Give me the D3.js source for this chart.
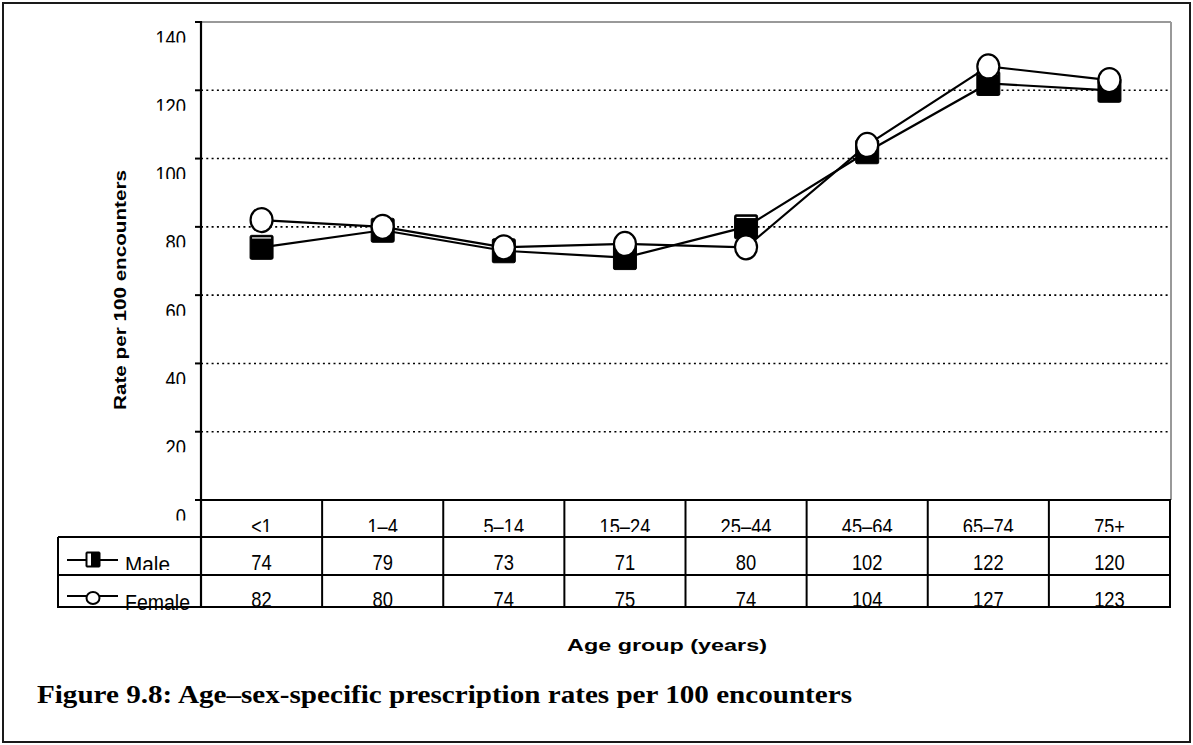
<!DOCTYPE html>
<html><head><meta charset="utf-8">
<script src="https://cdn.jsdelivr.net/npm/d3@7"></script>
<style>body{margin:0;background:#fff}svg{display:block}</style>
</head><body><svg id="c" width="1193" height="745"></svg>
<script>
const categories = ["<1", "1–4", "5–14", "15–24", "25–44", "45–64", "65–74", "75+"];
const maleValues = [74, 79, 73, 71, 80, 102, 122, 120];
const femaleValues = [82, 80, 74, 75, 74, 104, 127, 123];
const yTicks = [0, 20, 40, 60, 80, 100, 120, 140];
const seriesNames = ["Male", "Female"];
const yTitle = "Rate per 100 encounters";
const xTitle = "Age group (years)";
const caption = "Figure 9.8: Age–sex-specific prescription rates per 100 encounters";

const svg = d3.select("#c");
const SANS = "'Liberation Sans', Arial, sans-serif";
const SERIF = "'Liberation Serif', 'Times New Roman', serif";
const FS = 22;
const CW = 10.2; // condensed character width
const tl = s => String(s).length * CW;

const L = 201, R = 1170, T = 22, B = 500;
const rowHeader = [500, 537], rowMale = [537, 575], rowFemale = [575, 607];
const legendLeft = 58;

const x = d3.scaleBand().domain(categories).range([L, R]).paddingInner(0).paddingOuter(0);
const y = d3.scaleLinear().domain([0, 140]).range([B, T]);
const cx = c => x(c) + x.bandwidth() / 2;

const defs = svg.append("defs");

// outer frame
svg.append("rect").attr("x", 3).attr("y", 3).attr("width", 1187).attr("height", 739)
  .attr("fill", "none").attr("stroke", "#1a1a1a").attr("stroke-width", 2);

// gridlines
svg.append("g").selectAll("line").data(yTicks.filter(t => t > 0 && t < 140)).join("line")
  .attr("x1", L).attr("x2", R).attr("y1", d => y(d)).attr("y2", d => y(d))
  .attr("stroke", "#000").attr("stroke-width", 1.6).attr("stroke-dasharray", "2,3.3");

// plot top & right border (grey)
svg.append("line").attr("x1", L).attr("x2", R + 1).attr("y1", y(140)).attr("y2", y(140))
  .attr("stroke", "#999").attr("stroke-width", 2);
svg.append("line").attr("x1", R + 1).attr("x2", R + 1).attr("y1", y(140)).attr("y2", B)
  .attr("stroke", "#999").attr("stroke-width", 2);

// ticks
svg.append("g").selectAll("line").data(yTicks).join("line")
  .attr("x1", L - 6).attr("x2", L).attr("y1", d => y(d)).attr("y2", d => y(d))
  .attr("stroke", "#000").attr("stroke-width", 2);

// y tick labels (clipped like reference)
const yl = svg.append("g");
yTicks.forEach((t, i) => {
  const id = "yc" + i;
  defs.append("clipPath").attr("id", id).append("rect")
    .attr("x", 100).attr("y", y(t)).attr("width", 100).attr("height", 20.5);
  yl.append("text").attr("clip-path", `url(#${id})`)
    .attr("x", 186).attr("y", y(t) + 23.5).attr("text-anchor", "end")
    .attr("font-family", SANS).attr("font-size", FS)
    .attr("textLength", tl(t)).attr("lengthAdjust", "spacingAndGlyphs")
    .attr("fill", "#000").text(t);
});

// y title
svg.append("text").attr("transform", "translate(126,290) rotate(-90)")
  .attr("text-anchor", "middle").attr("font-family", SANS).attr("font-weight", "bold")
  .attr("font-size", 17).attr("textLength", 240).attr("lengthAdjust", "spacingAndGlyphs")
  .attr("fill", "#000").text(yTitle);

// table grid
const tg = svg.append("g").attr("stroke", "#000").attr("stroke-width", 2);
tg.append("line").attr("x1", L - 6).attr("x2", R + 1).attr("y1", rowHeader[0]).attr("y2", rowHeader[0]);
[rowMale[0], rowFemale[0], rowFemale[1]].forEach(yy =>
  tg.append("line").attr("x1", legendLeft).attr("x2", R + 1).attr("y1", yy).attr("y2", yy));
tg.append("line").attr("x1", legendLeft).attr("x2", legendLeft).attr("y1", rowMale[0]).attr("y2", rowFemale[1] + 1);
tg.selectAll(".vd").data(categories.slice(1)).join("line")
  .attr("x1", d => x(d)).attr("x2", d => x(d)).attr("y1", rowHeader[0]).attr("y2", rowFemale[1] + 1);
tg.append("line").attr("x1", R).attr("x2", R).attr("y1", rowHeader[0]).attr("y2", rowFemale[1] + 1);
// left axis
svg.append("line").attr("x1", L).attr("x2", L).attr("y1", T - 1).attr("y2", rowFemale[1] + 1)
  .attr("stroke", "#000").attr("stroke-width", 2.2);

// clipped rows of text
function rowClip(id, y0, y1) {
  defs.append("clipPath").attr("id", id).append("rect")
    .attr("x", 0).attr("y", y0).attr("width", 1193).attr("height", y1 - y0);
}
rowClip("rh", rowHeader[0], rowHeader[0] + 32);
rowClip("rm", rowMale[0], rowMale[0] + 33);
rowClip("rf", rowFemale[0], rowFemale[1]);

function cellText(g, data, yBase) {
  g.selectAll("text").data(data).join("text")
    .attr("x", (d, i) => cx(categories[i])).attr("y", yBase).attr("text-anchor", "middle")
    .attr("font-family", SANS).attr("font-size", FS)
    .attr("textLength", d => tl(d)).attr("lengthAdjust", "spacingAndGlyphs")
    .text(d => d);
}
cellText(svg.append("g").attr("clip-path", "url(#rh)"), categories, rowHeader[0] + 34);
cellText(svg.append("g").attr("clip-path", "url(#rm)"), maleValues, rowMale[0] + 33);
cellText(svg.append("g").attr("clip-path", "url(#rf)"), femaleValues, rowFemale[0] + 31.5);

// legend
const lg = svg.append("g");
lg.append("line").attr("x1", 67).attr("x2", 118).attr("y1", 560).attr("y2", 560).attr("stroke", "#000").attr("stroke-width", 2);
lg.append("rect").attr("x", 86).attr("y", 552).attr("width", 14).attr("height", 15).attr("rx", 1)
  .attr("fill", "#000").attr("stroke", "#000").attr("stroke-width", 1);
lg.append("rect").attr("x", 87.5).attr("y", 553.5).attr("width", 3.5).attr("height", 12).attr("fill", "#fff");
lg.append("text").attr("clip-path", "url(#rm)").attr("x", 125).attr("y", 572)
  .attr("font-family", SANS).attr("font-size", FS)
  .attr("textLength", 45).attr("lengthAdjust", "spacingAndGlyphs").text(seriesNames[0]);
lg.append("line").attr("x1", 67).attr("x2", 118).attr("y1", 596).attr("y2", 596).attr("stroke", "#000").attr("stroke-width", 2);
lg.append("ellipse").attr("cx", 93).attr("cy", 598).attr("rx", 6.5).attr("ry", 6)
  .attr("fill", "#fff").attr("stroke", "#000").attr("stroke-width", 2);
lg.append("text").attr("x", 125).attr("y", 610)
  .attr("font-family", SANS).attr("font-size", FS)
  .attr("textLength", 65).attr("lengthAdjust", "spacingAndGlyphs").text(seriesNames[1]);

// series
const line = d3.line().x((d, i) => cx(categories[i])).y(d => y(d));
svg.append("path").datum(maleValues).attr("d", line).attr("fill", "none").attr("stroke", "#000").attr("stroke-width", 2.2);
svg.append("g").selectAll("rect").data(maleValues).join("rect")
  .attr("x", (d, i) => cx(categories[i]) - 11.5).attr("y", d => y(d) - 12)
  .attr("width", 23).attr("height", 24).attr("rx", 1.5)
  .attr("fill", "#000").attr("stroke", "#000").attr("stroke-width", 1);
svg.append("g").selectAll("rect").data(maleValues).join("rect")
  .attr("x", (d, i) => cx(categories[i]) - 9.5).attr("y", d => y(d) - 10)
  .attr("width", 19).attr("height", 1.2).attr("fill", "#fff");
svg.append("path").datum(femaleValues).attr("d", line).attr("fill", "none").attr("stroke", "#000").attr("stroke-width", 2.2);
svg.append("g").selectAll("ellipse").data(femaleValues).join("ellipse")
  .attr("cx", (d, i) => cx(categories[i])).attr("cy", d => y(d))
  .attr("rx", 11).attr("ry", 12)
  .attr("fill", "#fff").attr("stroke", "#000").attr("stroke-width", 2.2);

// x title
svg.append("text").attr("x", 667).attr("y", 651).attr("text-anchor", "middle")
  .attr("font-family", SANS).attr("font-weight", "bold").attr("font-size", 17)
  .attr("textLength", 200).attr("lengthAdjust", "spacingAndGlyphs").text(xTitle);

// caption
svg.append("text").attr("x", 37).attr("y", 703)
  .attr("font-family", SERIF).attr("font-weight", "bold").attr("font-size", 25)
  .attr("textLength", 815).attr("lengthAdjust", "spacingAndGlyphs").text(caption);
</script>
</body></html>
